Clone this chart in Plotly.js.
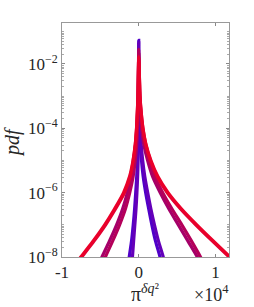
<!DOCTYPE html>
<html><head><meta charset="utf-8">
<script src="https://cdn.plot.ly/plotly-3.0.1.min.js"></script>
<style>body{margin:0;background:#fff}#c{width:254px;height:307px}</style>
</head><body><div id="c"></div>
<script>
// pdf levels (left tail, peak, right tail)
const blueLevels = [6.31e-9,1e-8,3.16e-8,1e-7,3.16e-7,1e-6,3.16e-6,1e-5,3.16e-5,1e-4,1e-3,1e-2];
const purpLevels = [6.31e-9,1e-8,3.16e-8,1e-7,3.16e-7,1e-6,3.16e-6,1e-5,3.16e-5,1e-4,3.16e-4,1e-3,1e-2];
const redLevels  = [6.31e-9,1e-8,3.16e-8,1e-7,3.16e-7,1e-6,3.16e-6,1e-5,3.16e-5,1e-4,3.16e-4,1e-3,3.16e-3,1e-2];

// blue pair
const blueA_left  = [-1312,-1234,-935,-714,-532,-390,-260,-169,-117,-78,-26,-6];
const blueA_right = [6,65,117,221,364,584,909,1299,1714,2182,2779,2948];
const blueA_peak  = 0.0537;
const blueB_left  = [-896,-818,-662,-506,-351,-234,-143,-78,-52,-39,-13,-4];
const blueB_right = [8,91,169,325,519,792,1169,1584,2052,2571,3195,3364];
const blueB_peak  = 0.0447;
// purple / crimson pair
const purpA_left  = [-5182,-4792,-3805,-2883,-2091,-1480,-974,-649,-403,-247,-156,-91,-26];
const purpA_right = [39,104,195,377,662,1156,1805,2792,3922,5169,6403,7636,8000];
const purpA_peak  = 0.0224;
const purpB_left  = [-4740,-4351,-3390,-2494,-1727,-1169,-727,-455,-260,-156,-91,-52,-13];
const purpB_right = [52,143,273,481,844,1390,2117,3130,4325,5623,6870,8052,8442];
const purpB_peak  = 0.0282;
// red pair
const redA_left  = [-8078,-7429,-5805,-4312,-3013,-1844,-1091,-720,-440,-280,-178,-100,-62,-25];
const redA_right = [37,100,165,318,545,925,1532,2403,3701,5429,7441,9584,11792,12701];
const redA_peak  = 0.017;
const redB_left  = [-8208,-7558,-5935,-4442,-3143,-1974,-1195,-740,-455,-286,-182,-104,-65,-26];
const redB_right = [39,104,169,325,558,948,1597,2506,3831,5558,7571,9714,11922,12831];
const redB_peak  = 0.0158;

const xTickVals = [-10000,0,10000];
const xTickText = ['-1','0','1'];
const yTickVals = [1e-8,1e-6,1e-4,1e-2];
const yTickText = ['10<sup>−8</sup>','10<sup>−6</sup>','10<sup>−4</sup>','10<sup>−2</sup>'];

function curve(left, right, peak, levels, color) {
  const x = left.concat([0], right);
  const y = levels.concat([peak], levels.slice().reverse());
  return {x: x, y: y, type: 'scatter', mode: 'lines',
    line: {color: color, width: 3.2, shape: 'spline', smoothing: 0.8},
    hoverinfo: 'skip', showlegend: false};
}
const traces = [
  curve(blueA_left, blueA_right, blueA_peak, blueLevels, 'rgb(80,0,200)'),
  curve(blueB_left, blueB_right, blueB_peak, blueLevels, 'rgb(100,0,185)'),
  curve(purpA_left, purpA_right, purpA_peak, purpLevels, 'rgb(165,0,105)'),
  curve(purpB_left, purpB_right, purpB_peak, purpLevels, 'rgb(180,0,90)'),
  curve(redA_left, redA_right, redA_peak, redLevels, 'rgb(222,0,55)'),
  curve(redB_left, redB_right, redB_peak, redLevels, 'rgb(234,0,42)')
];

const fam = 'Liberation Serif, serif';
const font = {family: fam, size: 17, color: '#262626'};
const layout = {
  width: 254, height: 307,
  margin: {l: 62, r: 25, t: 23, b: 50, pad: 0},
  paper_bgcolor: '#fff', plot_bgcolor: '#fff',
  font: font,
  showlegend: false,
  xaxis: {
    range: [-10000, 11770], tickmode: 'array', tickvals: xTickVals, ticktext: xTickText,
    ticks: 'inside', ticklen: 3, tickcolor: '#888', showgrid: false, zeroline: false,
    showline: true, linecolor: '#999', linewidth: 1, mirror: 'ticks', tickfont: font
  },
  yaxis: {
    type: 'log', range: [-8, -0.73], tickmode: 'array', tickvals: yTickVals, ticktext: yTickText,
    ticks: 'inside', ticklen: 3, tickcolor: '#888', showgrid: false, zeroline: false,
    showline: true, linecolor: '#999', linewidth: 1, mirror: 'ticks', tickfont: font,
    minor: {ticks: 'inside', ticklen: 2, tickcolor: '#aaa', dtick: 'D1', showgrid: false}
  },
  annotations: [
    {text: '<i>pdf</i>', xref: 'paper', yref: 'paper', x: -0.296, y: 0.49, textangle: -90,
     xanchor: 'center', yanchor: 'middle',
     showarrow: false, font: {family: fam, size: 20, color: '#262626'}},
    {text: 'π<sup><i>δq</i>²</sup>', xref: 'paper', yref: 'paper', x: 0.497, y: -0.215,
     xanchor: 'center', yanchor: 'bottom',
     showarrow: false, font: {family: fam, size: 20, color: '#262626'}},
    {text: '×10<sup>4</sup>', xref: 'paper', yref: 'paper', x: 0.898, y: -0.215,
     xanchor: 'center', yanchor: 'bottom',
     showarrow: false, font: {family: fam, size: 18, color: '#262626'}}
  ]
};
Plotly.newPlot('c', traces, layout, {staticPlot: true, displayModeBar: false});
</script></body></html>
